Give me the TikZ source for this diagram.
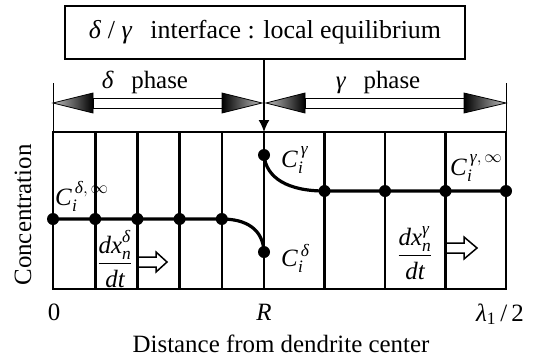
\RequirePackage{fix-cm}
\documentclass[tikz,border=0pt]{standalone}
\usepackage{amsmath}
\usepackage{fontspec}
\setmainfont{Liberation Serif}
\usetikzlibrary{arrows.meta}
\newcommand{\mydelta}{\textit{δ}}
\newcommand{\mygamma}{\textit{γ}}
\tikzset{
  lbl/.style={font=\fontsize{25}{29}\selectfont, inner sep=0pt},
  framebox/.style={line width=2bp},
  colline/.style={line width=2.6bp},
  concline/.style={line width=3.2bp},
  dotmark/.style={circle, fill=black, inner sep=0pt, minimum size=12bp},
  thinbar/.style={line width=1bp},
  headshade/.style={left color=black, middle color=black, right color=black!25, draw=black, line width=0.8bp},
  hollowarrow/.style={draw=black, fill=white, line width=1.5bp, line join=miter}
}
\begin{document}
\begin{tikzpicture}[x=1bp,y=-1bp]
\useasboundingbox (0,0) rectangle (539,363);
% title box and arrow
\node[lbl, font=\fontsize{26}{30}\selectfont, draw, line width=2bp, minimum width=400bp, minimum height=53bp] (box) at (265,32.5)
  {\mydelta\ / \mygamma\hspace{0.7em}interface : local equilibrium};
\coordinate (Rtop) at (264,132);
\coordinate (Rbot) at (264,289);
\draw[line width=1.5bp, -{Latex[length=12bp,width=11bp]}] (box.south -| Rtop) -- (Rtop);
% end bars
\coordinate (barL) at (53,83);
\coordinate (barR) at (506,83);
\draw[thinbar] (barL) -- (53,132);
\draw[thinbar] (barR) -- (506,132);
% phase arrows
\draw[line width=1bp, fill=white] (93,98) rectangle (222,108);
\shade[right color=black, middle color=black, left color=black!25, draw=black, line width=0.8bp] (93,93) -- (93,113) -- (53,103) -- cycle;
\shade[headshade] (222,93) -- (222,113) -- (262,103) -- cycle;
\draw[line width=1bp, fill=white] (305,98) rectangle (464,108);
\shade[right color=black, middle color=black, left color=black!25, draw=black, line width=0.8bp] (305,93) -- (305,113) -- (266,103) -- cycle;
\shade[headshade] (464,93) -- (464,113) -- (506,103) -- cycle;
\node[lbl, anchor=base] (dlab) at (145,88) {\mydelta\hspace{0.7em}phase};
\node[lbl, anchor=base] (glab) at (378,88) {\mygamma\hspace{0.7em}phase};
% frame and columns
\draw[framebox] (53,132) rectangle (506,289);
\foreach \x in {95.2,137.4,179.6,221.8,324.5,385,445.5} {
  \draw[colline] (\x,132) -- (\x,289);
}
\draw[colline] (Rtop) -- (Rbot);
% concentration profiles
\coordinate (d0) at (53,219);
\coordinate (d1) at (95.2,219);
\coordinate (d2) at (137.4,219);
\coordinate (d3) at (179.6,219);
\coordinate (d4) at (221.8,219);
\coordinate (dR) at (264,252);
\coordinate (gR) at (264,155);
\coordinate (g1) at (324.5,191);
\coordinate (g2) at (385,191);
\coordinate (g3) at (445.5,191);
\coordinate (g4) at (506,191);
\draw[concline] (d0) -- (d4) .. controls (246,219) and (263,229) .. (dR);
\draw[concline] (gR) .. controls (266,178) and (288,191) .. (g1) -- (g4);
\foreach \p in {d0,d1,d2,d3,d4,dR,gR,g1,g2,g3,g4} {
  \node[dotmark] at (\p) {};
}
% labels
\node[lbl, anchor=base west] (cdinf) at (55,205) {\textit{C}$_{\textit{i}}^{\,\textit{δ},\,\infty}$};
\node[lbl, anchor=base west] (cg) at (281,167) {\textit{C}$_{\textit{i}}^{\,\textit{γ}}$};
\node[lbl, anchor=base west] (cd) at (281,266) {\textit{C}$_{\textit{i}}^{\,\textit{δ}}$};
\node[lbl, anchor=base west] (cginf) at (450,175) {\textit{C}$_{\textit{i}}^{\,\textit{γ},\,\infty}$};
% rates
\node[lbl] (fd) at (115,259) {$\displaystyle\frac{\textit{dx}_{\textit{n}}^{\textit{δ}}}{\textit{dt}}$};
\node[lbl] (fg) at (415,253) {$\displaystyle\frac{\textit{dx}_{\textit{n}}^{\textit{γ}}}{\textit{dt}}$};
\draw[hollowarrow] (138,257) -- (156,257) -- (156,252) -- (167,262) -- (156,272) -- (156,267) -- (138,267) -- cycle;
\draw[hollowarrow] (446,243) -- (464,243) -- (464,237) -- (477,248) -- (464,259) -- (464,253) -- (446,253) -- cycle;
% axes labels
\node[lbl, rotate=90] (ylab) at (23,215) {Concentration};
\node[lbl, anchor=base] (x0) at (54,320) {0};
\node[lbl, anchor=base] (xR) at (264,320) {\textit{R}};
\node[lbl, anchor=base] (xL) at (500,321) {\textit{λ}$_{\text{1}}$\,/\,2};
\node[lbl, anchor=base] (xlab) at (281,352) {Distance from dendrite center};
\end{tikzpicture}
\end{document}
